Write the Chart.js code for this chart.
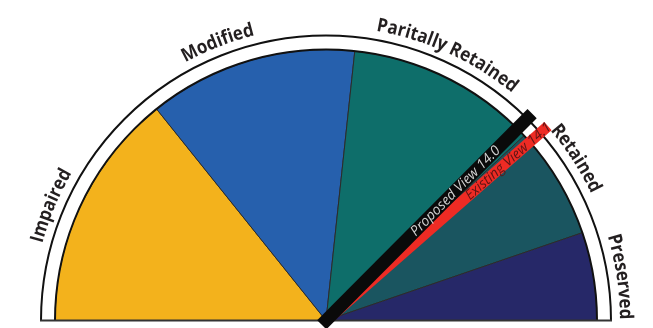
<!DOCTYPE html>
<html>
<head>
<meta charset="utf-8">
<script src="https://cdn.jsdelivr.net/npm/chart.js@4.4.1/dist/chart.umd.min.js"></script>
<style>
    html, body { margin: 0; padding: 0; background: #fff; }
    #wrap { width: 653px; height: 328px; }
</style>
</head>
<body>
<div id="wrap"><canvas id="gauge" width="653" height="328"></canvas></div>
<script>
// gauge bands, in degrees of the half circle (left -> right)
const categories = ['Impaired', 'Modified', 'Paritally Retained', 'Retained', 'Preserved'];
const bandValues = [51.3, 44.8, 40.9, 24.1, 18.9];
const bandColors = ['#F3B21C', '#2660AD', '#0E6E6A', '#1A5560', '#262868'];

// needles, same scale as the bands
const needleNames = ['Existing View 14.1', 'Proposed View 14.0'];
const needleValues = [138.8, 134.9];

// small nudges (degrees) so labels sit where the original put them
const labelNudge = [-3, -5, -2, -2, 1];

const gaugePlugin = {
    id: 'gaugeDecor',
    afterDatasetsDraw(chart) {
        const ctx = chart.ctx;
        const arc = chart.getDatasetMeta(0).data[0];
        const cx = arc.x, cy = arc.y, r = arc.outerRadius;
        const total = bandValues.reduce((a, b) => a + b, 0);

        ctx.save();
        // white rim with black edges
        ctx.beginPath();
        ctx.arc(cx, cy, r + 14, Math.PI, 2 * Math.PI);
        ctx.arc(cx, cy, r, 2 * Math.PI, Math.PI, true);
        ctx.closePath();
        ctx.fillStyle = '#fff';
        ctx.fill();
        ctx.lineWidth = 2;
        ctx.strokeStyle = '#111';
        ctx.beginPath();
        ctx.arc(cx, cy, r, Math.PI, 2 * Math.PI);
        ctx.stroke();
        ctx.beginPath();
        ctx.arc(cx, cy, r + 14, Math.PI, 2 * Math.PI);
        ctx.stroke();
        // base line
        ctx.strokeStyle = '#333';
        ctx.beginPath();
        ctx.moveTo(cx - r - 15, cy);
        ctx.lineTo(cx + r + 15, cy);
        ctx.stroke();

        // curved category labels (slightly tightened spacing)
        ctx.font = 'bold 19px "Open Sans", sans-serif';
        ctx.fillStyle = '#231F20';
        ctx.textAlign = 'center';
        ctx.textBaseline = 'alphabetic';
        const rText = r + 23;
        const squeeze = 0.89;
        let acc = 0;
        categories.forEach((label, i) => {
            const mid = Math.PI + ((acc + bandValues[i] / 2) / total) * Math.PI + labelNudge[i] * Math.PI / 180;
            acc += bandValues[i];
            const width = ctx.measureText(label).width * squeeze;
            let a = mid - width / rText / 2;
            for (const ch of label) {
                const cw = ctx.measureText(ch).width * squeeze;
                const ang = a + cw / 2 / rText;
                ctx.save();
                ctx.translate(cx + rText * Math.cos(ang), cy + rText * Math.sin(ang));
                ctx.rotate(ang + Math.PI / 2);
                ctx.scale(squeeze, 1);
                ctx.fillText(ch, 0, 0);
                ctx.restore();
                a += cw / rText;
            }
        });

        // needles
        const styles = [
            { fill: '#EE2B24', text: '#5e1515', w: 11, len: r + 24, tail: 0, textMid: r - 29 },
            { fill: '#0a0a0a', text: '#d0d0d0', w: 13, len: r + 21, tail: 6, textMid: r - 88 }
        ];
        needleValues.forEach((v, i) => {
            const s = styles[i];
            const ang = Math.PI + (v / total) * Math.PI;
            ctx.save();
            ctx.translate(cx, cy);
            ctx.rotate(ang);
            ctx.fillStyle = s.fill;
            ctx.fillRect(-s.tail, -s.w / 2, s.len + s.tail, s.w);
            ctx.font = 'italic 14px "Open Sans", sans-serif';
            ctx.fillStyle = s.text;
            ctx.textAlign = 'center';
            ctx.textBaseline = 'middle';
            ctx.fillText(needleNames[i], s.textMid, 0.5);
            ctx.restore();
        });
        ctx.restore();
    }
};

new Chart(document.getElementById('gauge'), {
    type: 'doughnut',
    data: {
        labels: categories,
        datasets: [{
            data: bandValues,
            backgroundColor: bandColors,
            borderColor: '#2b2b2b',
            borderWidth: 1
        }]
    },
    options: {
        responsive: false,
        animation: false,
        rotation: -90,
        circumference: 180,
        cutout: 0,
        layout: { padding: { left: 54, right: 55, top: 49, bottom: 7 } },
        plugins: {
            legend: { display: false },
            tooltip: { enabled: false }
        }
    },
    plugins: [gaugePlugin]
});
</script>
</body>
</html>
